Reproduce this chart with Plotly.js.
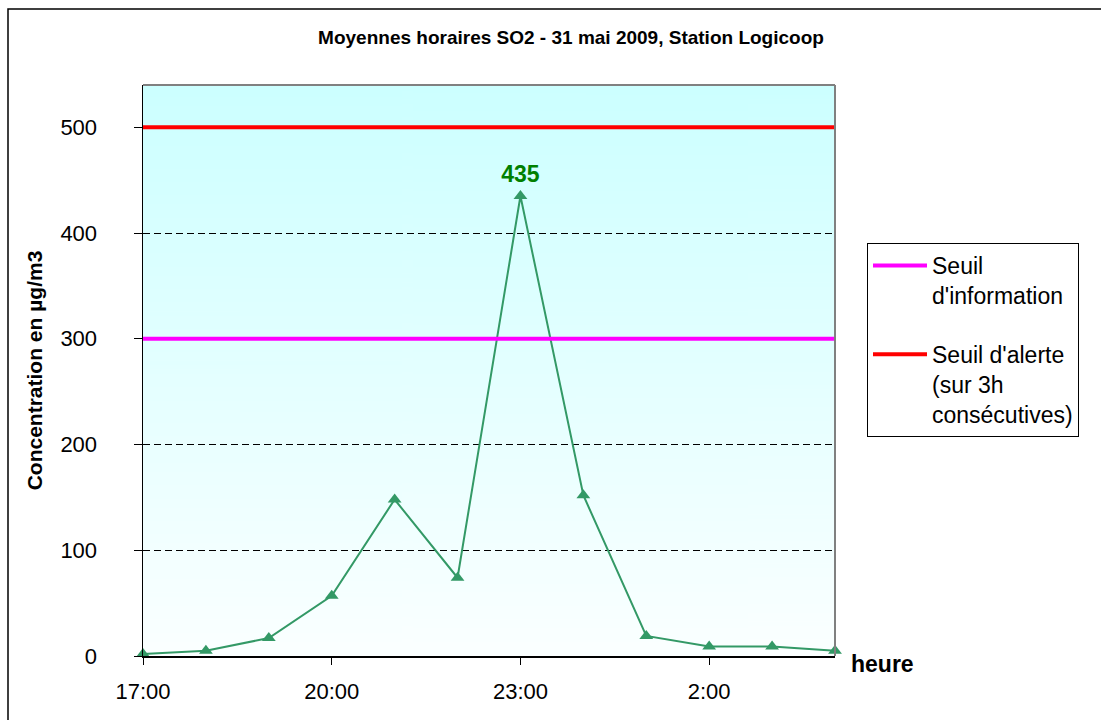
<!DOCTYPE html>
<html>
<head>
<meta charset="utf-8">
<script src="https://cdn.plot.ly/plotly-3.0.1.min.js"></script>
<style>
  html, body { margin: 0; padding: 0; background: #ffffff; }
  #chart { width: 1101px; height: 720px; }
</style>
</head>
<body>
<div id="chart"></div>
<script>
// ---- Data ----
const hours = ['17:00','18:00','19:00','20:00','21:00','22:00','23:00','0:00','1:00','2:00','3:00','4:00'];
const so2 = [2, 5, 17, 57, 148, 74, 435, 152, 19, 9, 9, 5];
const tickLabels = ['17:00','20:00','23:00','2:00'];
const seuilInformation = 300;
const seuilAlerte = 500;
const labelInfo = "Seuil<br>d'information";
const labelAlerte = "Seuil d'alerte<br>(sur 3h<br>consécutives)";
const chartTitle = "Moyennes horaires SO2 - 31 mai 2009, Station Logicoop";
const yTitle = "Concentration en µg/m3";
const xTitle = "heure";

// ---- Gradient background image (plot area) ----
const cv = document.createElement('canvas');
cv.width = 4; cv.height = 256;
const ctx = cv.getContext('2d');
const grd = ctx.createLinearGradient(0, 0, 0, 256);
grd.addColorStop(0, '#ccffff');
grd.addColorStop(1, '#fbffff');
ctx.fillStyle = grd;
ctx.fillRect(0, 0, 4, 256);
const bgSrc = cv.toDataURL('image/png');

const peakIdx = so2.indexOf(Math.max(...so2));
const peakText = so2.map((v, i) => i === peakIdx ? String(v) : '');

const xFirst = hours[0], xLast = hours[hours.length - 1];
const yMax = 540;

const traces = [
  {
    x: hours, y: so2, type: 'scatter', mode: 'lines+markers+text',
    line: { color: '#339966', width: 2 },
    marker: { symbol: 'triangle-up', size: 12, color: '#339966' },
    text: peakText, textposition: 'top center',
    textfont: { family: 'Arial, Liberation Sans, sans-serif', size: 23, color: '#008000', weight: 'bold' },
    showlegend: false, cliponaxis: false, hoverinfo: 'x+y'
  },
  {
    x: [xFirst, xLast], y: [seuilInformation, seuilInformation], type: 'scatter', mode: 'lines',
    line: { color: '#ff00ff', width: 4 }, name: labelInfo, legendgroup: 'a', cliponaxis: false
  },
  {
    x: [xFirst, xLast], y: [seuilAlerte, seuilAlerte], type: 'scatter', mode: 'lines',
    line: { color: '#ff0000', width: 4 }, name: labelAlerte, legendgroup: 'b', cliponaxis: false
  }
];

const F = 'Arial, Liberation Sans, sans-serif';
const layout = {
  width: 1101, height: 720,
  margin: { l: 143, r: 266, t: 85, b: 64 },
  paper_bgcolor: '#ffffff',
  plot_bgcolor: 'rgba(0,0,0,0)',
  font: { family: F, color: '#000000', size: 21 },
  title: {
    text: chartTitle, font: { family: F, size: 19, weight: 'bold', color: '#000' },
    xref: 'paper', x: (571 - 143) / 692, xanchor: 'center',
    yref: 'container', y: 1 - 37 / 720, yanchor: 'middle'
  },
  xaxis: {
    type: 'category', range: [0, hours.length - 1],
    tickmode: 'array', tickvals: tickLabels, ticktext: tickLabels,
    showline: true, linecolor: '#000', linewidth: 1.5,
    ticks: 'outside', ticklen: 7, tickcolor: '#000', tickwidth: 1,
    ticklabelstandoff: 8,
    showgrid: false, zeroline: false,
    tickfont: { family: F, size: 22, color: '#000' }
  },
  yaxis: {
    range: [0, yMax], dtick: 100, tick0: 0,
    showline: true, linecolor: '#000', linewidth: 1.5,
    ticks: 'outside', ticklen: 8, tickcolor: '#000', tickwidth: 1,
    ticklabelstandoff: 32,
    showgrid: true, gridcolor: '#000', gridwidth: 1, griddash: '7px,4px',
    zeroline: false,
    tickfont: { family: F, size: 22, color: '#000' },
    title: { text: yTitle, font: { family: F, size: 21, weight: 'bold', color: '#000' }, standoff: 12 }
  },
  legend: {
    x: (867 - 143) / 692, y: (656 - 243) / 571, xanchor: 'left', yanchor: 'top',
    bgcolor: '#ffffff', bordercolor: '#000', borderwidth: 1,
    font: { family: F, size: 23, color: '#000' },
    itemwidth: 54, valign: 'top', traceorder: 'grouped', tracegroupgap: 26
  },
  images: [{
    source: bgSrc, xref: 'paper', yref: 'paper', x: 0, y: 1, sizex: 1, sizey: 1,
    sizing: 'stretch', xanchor: 'left', yanchor: 'top', layer: 'below'
  }],
  shapes: [
    { type: 'line', xref: 'paper', yref: 'paper', x0: 0, x1: 1, y0: 1, y1: 1, line: { color: '#808080', width: 2 } },
    { type: 'line', xref: 'paper', yref: 'paper', x0: 1, x1: 1, y0: 0, y1: 1, line: { color: '#808080', width: 2 } },
    { type: 'rect', xref: 'paper', yref: 'paper', x0: (8 - 143) / 692, x1: 1.6, y0: -0.5, y1: (656 - 9) / 571,
      line: { color: '#000', width: 1.5 }, fillcolor: 'rgba(0,0,0,0)', layer: 'below' }
  ],
  annotations: [
    { text: xTitle, xref: 'paper', yref: 'paper', x: (882 - 143) / 692, y: (656 - 664) / 571,
      xanchor: 'center', yanchor: 'middle', showarrow: false,
      font: { family: F, size: 23, weight: 'bold', color: '#000' } }
  ],
  hovermode: false
};

Plotly.newPlot('chart', traces, layout, { displayModeBar: false, staticPlot: true });
</script>
</body>
</html>
